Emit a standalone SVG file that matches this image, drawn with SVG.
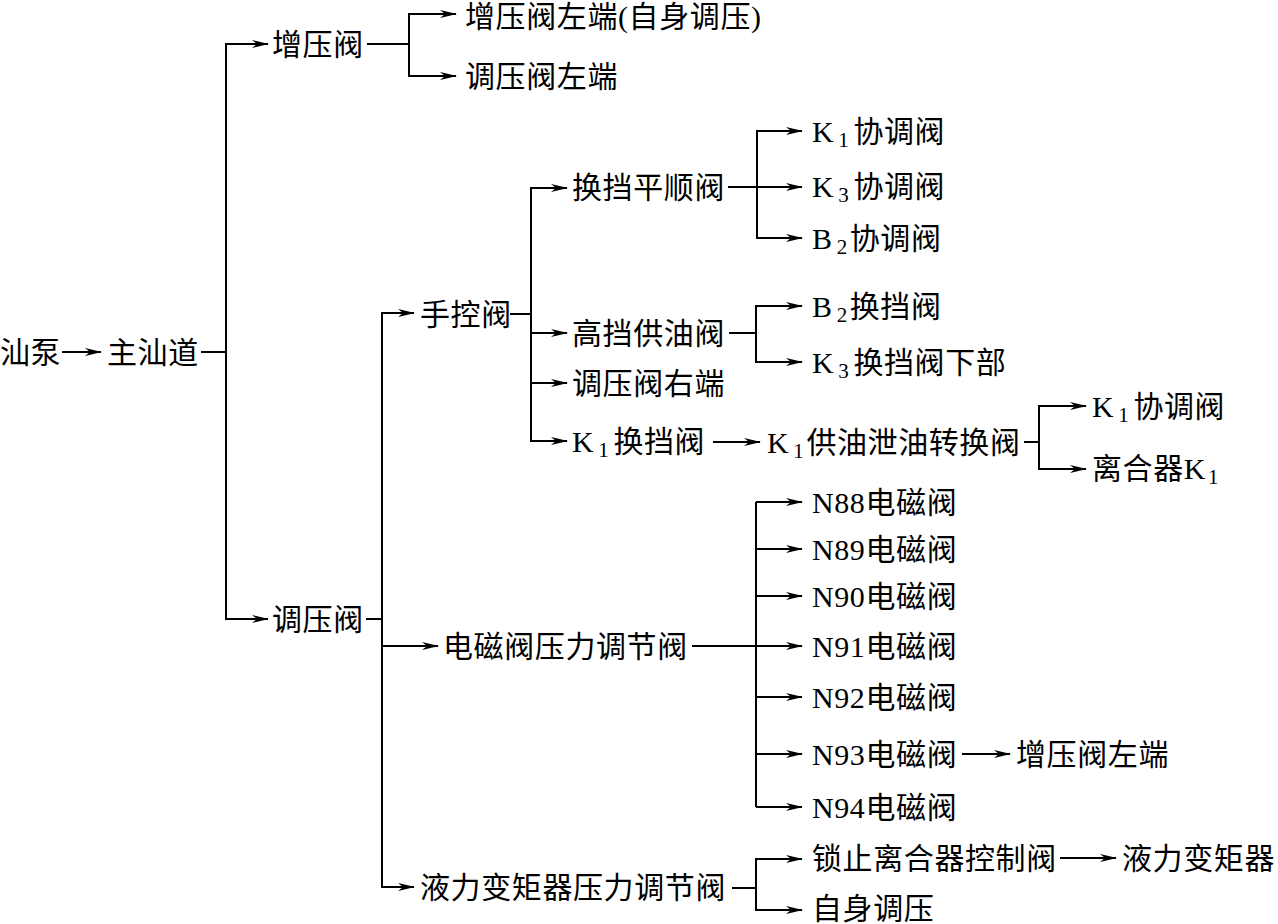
<svg xmlns="http://www.w3.org/2000/svg" width="1278" height="924" viewBox="0 0 1278 924">
<defs>
<marker id="ah" markerUnits="userSpaceOnUse" markerWidth="18" markerHeight="10" refX="16" refY="4.5" orient="auto">
<path d="M0,0.5 L17,4.5 L0,8.5 L5,4.5 Z" fill="#000"/>
</marker>
<style>
text{font-family:"Liberation Serif","Noto Sans CJK SC",serif;font-size:30px;fill:#000;dominant-baseline:central;letter-spacing:0.6px}
.c path{fill:none;stroke:#000;stroke-width:2}
.c .a{marker-end:url(#ah)}
.s{font-size:21px}
</style>
</defs>
<rect width="1278" height="924" fill="#fff"/>
<g class="c" id="connectors">
<path class="a" d="M62,352 H101"/>
<path d="M201,352 H226"/>
<path class="a" d="M226,352 V44 H268"/>
<path class="a" d="M226,352 V619 H268"/>
<path d="M367,44 H409"/>
<path class="a" d="M409,44 V14 H456"/>
<path class="a" d="M409,44 V76 H456"/>
<path d="M366,619 H382"/>
<path class="a" d="M382,619 V313 H414"/>
<path class="a" d="M382,619 V887 H414"/>
<path class="a" d="M382,646 H438"/>
<path d="M510,314 H531"/>
<path class="a" d="M531,314 V188 H567"/>
<path class="a" d="M531,314 V441 H567"/>
<path class="a" d="M531,333 H567"/>
<path class="a" d="M531,383 H567"/>
<path d="M728,187 H757"/>
<path class="a" d="M757,187 V131 H802"/>
<path class="a" d="M757,187 V238 H802"/>
<path class="a" d="M757,187 H802"/>
<path d="M729,333 H756"/>
<path class="a" d="M756,333 V306 H802"/>
<path class="a" d="M756,333 V362 H802"/>
<path class="a" d="M713,442 H760"/>
<path d="M1024,442 H1039"/>
<path class="a" d="M1039,442 V406 H1086"/>
<path class="a" d="M1039,442 V469 H1086"/>
<path d="M692,646 H756"/>
<path d="M756,502 V807"/>
<path class="a" d="M756,502 H802"/>
<path class="a" d="M756,549 H802"/>
<path class="a" d="M756,596 H802"/>
<path class="a" d="M756,646 H802"/>
<path class="a" d="M756,697 H802"/>
<path class="a" d="M756,754 H802"/>
<path class="a" d="M756,807 H802"/>
<path class="a" d="M962,754 H1010"/>
<path d="M732,888 H756"/>
<path class="a" d="M756,888 V859 H802"/>
<path class="a" d="M756,888 V910 H802"/>
<path class="a" d="M1060,858 H1116"/>
</g>
<g id="n-pump"><text x="0" y="352">汕泵</text></g>
<g id="n-main"><text x="107" y="352">主汕道</text></g>
<g id="n-boost"><text x="272" y="44">增压阀</text></g>
<g id="n-reg"><text x="272" y="619">调压阀</text></g>
<g id="n-boost-left-self"><text x="465" y="16">增压阀左端(自身调压)</text></g>
<g id="n-reg-left"><text x="465" y="76">调压阀左端</text></g>
<g id="n-manual"><text x="420" y="314">手控阀</text></g>
<g id="n-solenoid-reg"><text x="443" y="646">电磁阀压力调节阀</text></g>
<g id="n-tc-reg"><text x="420" y="887">液力变矩器压力调节阀</text></g>
<g id="n-smooth"><text x="572" y="187">换挡平顺阀</text></g>
<g id="n-high"><text x="572" y="333">高挡供油阀</text></g>
<g id="n-reg-right"><text x="572" y="383">调压阀右端</text></g>
<g id="n-k1shift"><text x="572" y="441">K<tspan class="s" dx="4" dy="9">1</tspan><tspan dx="4" dy="-9">换挡阀</tspan></text></g>
<g id="n-k1coord-a"><text x="812" y="131">K<tspan class="s" dx="4" dy="9">1</tspan><tspan dx="4" dy="-9">协调阀</tspan></text></g>
<g id="n-k3coord"><text x="812" y="186">K<tspan class="s" dx="4" dy="9">3</tspan><tspan dx="4" dy="-9">协调阀</tspan></text></g>
<g id="n-b2coord"><text x="812" y="238">B<tspan class="s" dx="4" dy="9">2</tspan><tspan dx="2" dy="-9">协调阀</tspan></text></g>
<g id="n-b2shift"><text x="812" y="306">B<tspan class="s" dx="4" dy="9">2</tspan><tspan dx="2" dy="-9">换挡阀</tspan></text></g>
<g id="n-k3shift"><text x="812" y="362">K<tspan class="s" dx="4" dy="9">3</tspan><tspan dx="4" dy="-9">换挡阀下部</tspan></text></g>
<g id="n-k1switch"><text x="767" y="442">K<tspan class="s" dx="4" dy="9">1</tspan><tspan dx="2" dy="-9">供油泄油转换阀</tspan></text></g>
<g id="n-k1coord-b"><text x="1092" y="406">K<tspan class="s" dx="4" dy="9">1</tspan><tspan dx="4" dy="-9">协调阀</tspan></text></g>
<g id="n-clutch-k1"><text x="1092" y="468">离合器K<tspan class="s" dx="2" dy="9">1</tspan></text></g>
<g id="n-n88"><text x="812" y="502">N88电磁阀</text></g>
<g id="n-n89"><text x="812" y="549">N89电磁阀</text></g>
<g id="n-n90"><text x="812" y="596">N90电磁阀</text></g>
<g id="n-n91"><text x="812" y="646">N91电磁阀</text></g>
<g id="n-n92"><text x="812" y="697">N92电磁阀</text></g>
<g id="n-n93"><text x="812" y="754">N93电磁阀</text></g>
<g id="n-n94"><text x="812" y="807">N94电磁阀</text></g>
<g id="n-boost-left"><text x="1016" y="754">增压阀左端</text></g>
<g id="n-lockup"><text x="812" y="858">锁止离合器控制阀</text></g>
<g id="n-tc"><text x="1122" y="858">液力变矩器</text></g>
<g id="n-self"><text x="812" y="908">自身调压</text></g>
</svg>
